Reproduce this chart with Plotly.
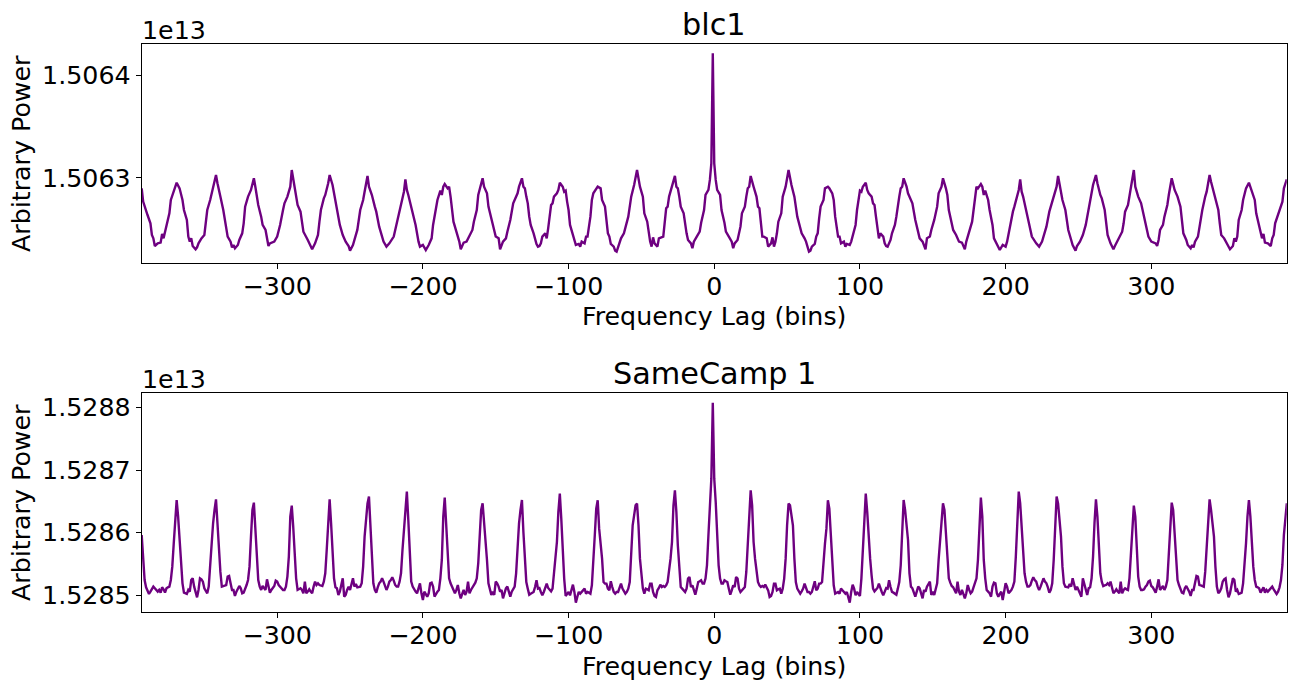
import plotly.graph_objects as go

# ---------------- data (values in units of 1e13, as on the axes) ----------------
blc1_lag = [
    -393, -392, -389, -387, -386, -385, -384, -382, -380, -379,
    -378, -376, -374, -373, -371, -370, -369, -367, -366, -365,
    -364, -362, -361, -360, -359, -358, -356, -355, -354, -352,
    -350, -349, -348, -346, -345, -343, -342, -341, -340, -339,
    -337, -335, -334, -332, -331, -330, -329, -327, -326, -324,
    -323, -322, -320, -318, -316, -315, -314, -313, -311, -310,
    -308, -307, -306, -305, -302, -300, -298, -296, -295, -293,
    -291, -290, -289, -287, -286, -284, -283, -282, -279, -277,
    -276, -274, -272, -271, -270, -268, -267, -265, -264, -262,
    -261, -260, -259, -257, -255, -253, -251, -250, -248, -247,
    -245, -243, -241, -240, -238, -237, -235, -233, -232, -230,
    -228, -227, -225, -223, -220, -219, -217, -215, -214, -213,
    -212, -211, -210, -208, -207, -205, -203, -202, -200, -198,
    -196, -194, -193, -191, -190, -188, -187, -186, -185, -183,
    -182, -181, -180, -179, -177, -175, -174, -172, -170, -168,
    -166, -165, -163, -162, -161, -159, -158, -156, -155, -153,
    -151, -150, -148, -147, -145, -143, -142, -140, -138, -136,
    -135, -134, -132, -131, -130, -129, -128, -127, -126, -124,
    -123, -122, -121, -120, -119, -118, -116, -115, -114, -113,
    -112, -111, -110, -108, -107, -106, -104, -103, -102, -101,
    -100, -99, -98, -97, -96, -95, -93, -92, -91, -89,
    -88, -87, -85, -84, -83, -81, -80, -78, -77, -75,
    -74, -73, -72, -71, -69, -68, -67, -65, -64, -62,
    -61, -59, -57, -56, -55, -53, -52, -51, -49, -48,
    -46, -45, -44, -43, -42, -41, -39, -38, -36, -35,
    -33, -32, -31, -29, -27, -26, -25, -24, -23, -21,
    -20, -19, -18, -16, -15, -14, -12, -10, -9, -7,
    -6, -4, -3, -2, -1,
    0, 1, 2, 4, 5, 7, 8, 10, 12, 13,
    14, 16, 17, 18, 19, 21, 22, 23, 24, 25,
    27, 29, 30, 31, 33, 34, 36, 37, 39, 40,
    41, 42, 43, 44, 46, 47, 49, 50, 51, 53,
    54, 55, 57, 59, 60, 62, 63, 65, 66, 67,
    69, 70, 71, 72, 73, 75, 76, 78, 79, 81,
    82, 83, 85, 86, 87, 89, 90, 91, 93, 94,
    95, 96, 97, 98, 99, 100, 101, 102, 104, 105,
    106, 108, 109, 110, 111, 112, 113, 114, 116, 117,
    118, 119, 120, 121, 122, 124, 125, 126, 127, 128,
    129, 130, 132, 133, 134, 136, 138, 140, 141, 143,
    145, 146, 148, 149, 151, 153, 154, 156, 157, 159,
    160, 161, 163, 164, 166, 168, 170, 172, 173, 175,
    177, 178, 179, 180, 181, 183, 184, 185, 186, 188,
    189, 191, 192, 194, 196, 198, 200, 201, 203, 205,
    206, 208, 209, 210, 211, 212, 213, 215, 217, 218,
    221, 223, 225, 226, 228, 230, 231, 233, 235, 236,
    238, 239, 241, 243, 245, 246, 248, 249, 251, 253,
    255, 257, 258, 259, 260, 262, 263, 265, 266, 268,
    269, 270, 272, 274, 275, 277, 280, 281, 282, 284,
    285, 287, 288, 289, 291, 293, 294, 296, 298, 300,
    303, 304, 305, 306, 308, 309, 311, 312, 313, 314,
    316, 318, 320, 321, 322, 324, 325, 327, 328, 329,
    330, 332, 333, 335, 337, 338, 339, 340, 341, 343,
    344, 346, 347, 348, 350, 352, 353, 354, 356, 357,
    358, 359, 360, 362, 363, 364, 365, 367, 368, 369,
    371, 372, 374, 376, 377, 378, 380, 382, 383, 384,
    385, 387, 390, 391, 392, 393,
]

blc1_power = [
    1.5062896, 1.5062766, 1.5062635, 1.5062554, 1.5062440, 1.5062407, 1.5062332, 1.5062358, 1.5062365, 1.5062450,
    1.5062407, 1.5062521, 1.5062652, 1.5062782, 1.5062863, 1.5062912, 1.5062951, 1.5062896, 1.5062847, 1.5062782,
    1.5062684, 1.5062587, 1.5062424, 1.5062375, 1.5062407, 1.5062332, 1.5062300, 1.5062319, 1.5062358, 1.5062407,
    1.5062440, 1.5062554, 1.5062684, 1.5062782, 1.5062847, 1.5062961, 1.5063026, 1.5062945, 1.5062863, 1.5062815,
    1.5062684, 1.5062521, 1.5062424, 1.5062375, 1.5062319, 1.5062342, 1.5062310, 1.5062342, 1.5062391, 1.5062456,
    1.5062554, 1.5062717, 1.5062815, 1.5062880, 1.5062994, 1.5062912, 1.5062831, 1.5062733, 1.5062619, 1.5062538,
    1.5062489, 1.5062391, 1.5062332, 1.5062358, 1.5062375, 1.5062424, 1.5062538, 1.5062684, 1.5062749, 1.5062815,
    1.5062912, 1.5063075, 1.5062978, 1.5062815, 1.5062733, 1.5062668, 1.5062554, 1.5062472, 1.5062391, 1.5062332,
    1.5062300, 1.5062358, 1.5062440, 1.5062570, 1.5062684, 1.5062798, 1.5062831, 1.5062945, 1.5063026, 1.5062929,
    1.5062847, 1.5062782, 1.5062684, 1.5062538, 1.5062440, 1.5062375, 1.5062332, 1.5062287, 1.5062342, 1.5062391,
    1.5062489, 1.5062684, 1.5062782, 1.5062863, 1.5063017, 1.5062912, 1.5062831, 1.5062717, 1.5062668, 1.5062521,
    1.5062424, 1.5062375, 1.5062326, 1.5062358, 1.5062424, 1.5062489, 1.5062619, 1.5062749, 1.5062815, 1.5062863,
    1.5062984, 1.5062880, 1.5062831, 1.5062717, 1.5062668, 1.5062538, 1.5062375, 1.5062326, 1.5062342, 1.5062293,
    1.5062342, 1.5062407, 1.5062538, 1.5062684, 1.5062782, 1.5062873, 1.5062831, 1.5062912, 1.5062938, 1.5062896,
    1.5062912, 1.5062815, 1.5062684, 1.5062570, 1.5062472, 1.5062375, 1.5062300, 1.5062365, 1.5062375, 1.5062440,
    1.5062489, 1.5062570, 1.5062684, 1.5062831, 1.5062896, 1.5062994, 1.5062912, 1.5062847, 1.5062717, 1.5062587,
    1.5062489, 1.5062424, 1.5062407, 1.5062300, 1.5062375, 1.5062407, 1.5062472, 1.5062587, 1.5062749, 1.5062815,
    1.5062847, 1.5062912, 1.5062994, 1.5062912, 1.5062896, 1.5062815, 1.5062749, 1.5062619, 1.5062538, 1.5062456,
    1.5062391, 1.5062352, 1.5062326, 1.5062332, 1.5062358, 1.5062424, 1.5062456, 1.5062407, 1.5062505, 1.5062619,
    1.5062733, 1.5062749, 1.5062815, 1.5062847, 1.5062880, 1.5062951, 1.5062912, 1.5062863, 1.5062873, 1.5062766,
    1.5062684, 1.5062538, 1.5062489, 1.5062424, 1.5062375, 1.5062342, 1.5062352, 1.5062326, 1.5062375, 1.5062358,
    1.5062424, 1.5062424, 1.5062619, 1.5062782, 1.5062847, 1.5062896, 1.5062912, 1.5062896, 1.5062782, 1.5062717,
    1.5062603, 1.5062456, 1.5062424, 1.5062352, 1.5062326, 1.5062287, 1.5062277, 1.5062375, 1.5062407, 1.5062456,
    1.5062521, 1.5062619, 1.5062815, 1.5062863, 1.5062929, 1.5063075, 1.5062978, 1.5062912, 1.5062815, 1.5062652,
    1.5062570, 1.5062456, 1.5062375, 1.5062326, 1.5062417, 1.5062358, 1.5062326, 1.5062407, 1.5062424, 1.5062424,
    1.5062701, 1.5062717, 1.5062815, 1.5062912, 1.5063017, 1.5062912, 1.5062896, 1.5062815, 1.5062717, 1.5062652,
    1.5062521, 1.5062456, 1.5062391, 1.5062358, 1.5062310, 1.5062375, 1.5062424, 1.5062472, 1.5062560, 1.5062684,
    1.5062831, 1.5062880, 1.5062978, 1.5063140, 1.5064216,
    1.5063140, 1.5062978, 1.5062880, 1.5062831, 1.5062684, 1.5062560, 1.5062472, 1.5062424, 1.5062375, 1.5062310,
    1.5062358, 1.5062391, 1.5062456, 1.5062521, 1.5062652, 1.5062717, 1.5062815, 1.5062896, 1.5062912, 1.5063017,
    1.5062912, 1.5062815, 1.5062717, 1.5062701, 1.5062424, 1.5062424, 1.5062407, 1.5062326, 1.5062358, 1.5062417,
    1.5062326, 1.5062375, 1.5062456, 1.5062570, 1.5062652, 1.5062815, 1.5062912, 1.5062978, 1.5063075, 1.5062929,
    1.5062863, 1.5062815, 1.5062619, 1.5062521, 1.5062456, 1.5062407, 1.5062375, 1.5062277, 1.5062287, 1.5062326,
    1.5062352, 1.5062424, 1.5062456, 1.5062603, 1.5062717, 1.5062782, 1.5062896, 1.5062912, 1.5062896, 1.5062847,
    1.5062782, 1.5062619, 1.5062424, 1.5062424, 1.5062358, 1.5062375, 1.5062326, 1.5062352, 1.5062342, 1.5062375,
    1.5062424, 1.5062489, 1.5062538, 1.5062684, 1.5062766, 1.5062873, 1.5062863, 1.5062912, 1.5062951, 1.5062880,
    1.5062847, 1.5062815, 1.5062749, 1.5062733, 1.5062619, 1.5062505, 1.5062407, 1.5062456, 1.5062424, 1.5062358,
    1.5062332, 1.5062326, 1.5062352, 1.5062391, 1.5062456, 1.5062538, 1.5062619, 1.5062749, 1.5062815, 1.5062896,
    1.5062912, 1.5062994, 1.5062912, 1.5062847, 1.5062815, 1.5062749, 1.5062587, 1.5062472, 1.5062407, 1.5062375,
    1.5062300, 1.5062407, 1.5062424, 1.5062489, 1.5062587, 1.5062717, 1.5062847, 1.5062912, 1.5062994, 1.5062896,
    1.5062831, 1.5062684, 1.5062570, 1.5062489, 1.5062440, 1.5062375, 1.5062365, 1.5062300, 1.5062375, 1.5062472,
    1.5062570, 1.5062684, 1.5062815, 1.5062912, 1.5062896, 1.5062938, 1.5062912, 1.5062831, 1.5062873, 1.5062782,
    1.5062684, 1.5062538, 1.5062407, 1.5062342, 1.5062293, 1.5062342, 1.5062326, 1.5062375, 1.5062538, 1.5062668,
    1.5062717, 1.5062831, 1.5062880, 1.5062984, 1.5062863, 1.5062815, 1.5062749, 1.5062619, 1.5062489, 1.5062424,
    1.5062358, 1.5062326, 1.5062375, 1.5062424, 1.5062521, 1.5062668, 1.5062717, 1.5062831, 1.5062912, 1.5063017,
    1.5062863, 1.5062782, 1.5062684, 1.5062489, 1.5062391, 1.5062342, 1.5062287, 1.5062332, 1.5062375, 1.5062440,
    1.5062538, 1.5062684, 1.5062782, 1.5062847, 1.5062929, 1.5063026, 1.5062945, 1.5062831, 1.5062798, 1.5062684,
    1.5062570, 1.5062440, 1.5062358, 1.5062300, 1.5062332, 1.5062391, 1.5062472, 1.5062554, 1.5062668, 1.5062733,
    1.5062815, 1.5062978, 1.5063075, 1.5062912, 1.5062815, 1.5062749, 1.5062684, 1.5062538, 1.5062424, 1.5062375,
    1.5062358, 1.5062332, 1.5062391, 1.5062489, 1.5062538, 1.5062619, 1.5062733, 1.5062831, 1.5062912, 1.5062994,
    1.5062880, 1.5062815, 1.5062717, 1.5062554, 1.5062456, 1.5062391, 1.5062342, 1.5062310, 1.5062342, 1.5062319,
    1.5062375, 1.5062424, 1.5062521, 1.5062684, 1.5062815, 1.5062863, 1.5062945, 1.5063026, 1.5062961, 1.5062847,
    1.5062782, 1.5062684, 1.5062554, 1.5062440, 1.5062407, 1.5062358, 1.5062319, 1.5062300, 1.5062332, 1.5062407,
    1.5062375, 1.5062424, 1.5062587, 1.5062684, 1.5062782, 1.5062847, 1.5062896, 1.5062951, 1.5062912, 1.5062863,
    1.5062782, 1.5062652, 1.5062521, 1.5062407, 1.5062450, 1.5062365, 1.5062358, 1.5062332, 1.5062407, 1.5062440,
    1.5062554, 1.5062635, 1.5062766, 1.5062896, 1.5062945, 1.5062984,
]

samecamp_lag = list(range(-393, 394))

samecamp_power = [
    1.5285962, 1.5285483, 1.5285243, 1.5285126, 1.5285057, 1.5285020, 1.5285057, 1.5285094, 1.5285137, 1.5285110,
    1.5285084, 1.5285057, 1.5285084, 1.5285041, 1.5285126, 1.5285094, 1.5285041, 1.5285110, 1.5285126, 1.5285137,
    1.5285243, 1.5285456, 1.5285829, 1.5286255, 1.5286521, 1.5286255, 1.5285829, 1.5285456, 1.5285190, 1.5285041,
    1.5285030, 1.5285020, 1.5285084, 1.5285057, 1.5285243, 1.5285270, 1.5285137, 1.5285030, 1.5284966, 1.5285084,
    1.5285270, 1.5285254, 1.5285217, 1.5285110, 1.5285057, 1.5285030, 1.5285137, 1.5285456, 1.5285936, 1.5286149,
    1.5286362, 1.5286532, 1.5286149, 1.5285723, 1.5285376, 1.5285137, 1.5285147, 1.5285158, 1.5285163, 1.5285297,
    1.5285307, 1.5285190, 1.5285084, 1.5285084, 1.5284988, 1.5285057, 1.5285110, 1.5285147, 1.5285110, 1.5285030,
    1.5285041, 1.5285094, 1.5285163, 1.5285243, 1.5285456, 1.5285936, 1.5286362, 1.5286479, 1.5286095, 1.5285616,
    1.5285243, 1.5285137, 1.5285084, 1.5285147, 1.5285110, 1.5285084, 1.5285254, 1.5285137, 1.5285041, 1.5285084,
    1.5285126, 1.5285147, 1.5285233, 1.5285217, 1.5285163, 1.5285137, 1.5285094, 1.5285084, 1.5285084, 1.5285137,
    1.5285297, 1.5285616, 1.5286255, 1.5286431, 1.5286095, 1.5285616, 1.5285270, 1.5285084, 1.5285094, 1.5285110,
    1.5285084, 1.5285030, 1.5285217, 1.5285030, 1.5285057, 1.5285094, 1.5285057, 1.5285030, 1.5285137, 1.5285217,
    1.5285163, 1.5285190, 1.5285163, 1.5285158, 1.5285147, 1.5285217, 1.5285350, 1.5285723, 1.5286255, 1.5286532,
    1.5286149, 1.5285616, 1.5285270, 1.5285126, 1.5285110, 1.5285004, 1.5285057, 1.5285163, 1.5285270, 1.5284977,
    1.5285004, 1.5285084, 1.5285137, 1.5285084, 1.5285190, 1.5285270, 1.5285137, 1.5285179, 1.5285126, 1.5285131,
    1.5285137, 1.5285190, 1.5285456, 1.5285936, 1.5286255, 1.5286468, 1.5286575, 1.5286149, 1.5285563, 1.5285190,
    1.5285084, 1.5285041, 1.5285126, 1.5285190, 1.5285217, 1.5285270, 1.5285217, 1.5285137, 1.5285084, 1.5285137,
    1.5285217, 1.5285243, 1.5285286, 1.5285233, 1.5285163, 1.5285137, 1.5285137, 1.5285217, 1.5285350, 1.5285723,
    1.5286095, 1.5286468, 1.5286654, 1.5286202, 1.5285616, 1.5285217, 1.5285137, 1.5285084, 1.5285057, 1.5285030,
    1.5285137, 1.5285190, 1.5285030, 1.5284924, 1.5285057, 1.5285020, 1.5284977, 1.5285030, 1.5285190, 1.5285201,
    1.5285137, 1.5284977, 1.5285030, 1.5285057, 1.5285084, 1.5285270, 1.5285563, 1.5286255, 1.5286559, 1.5286095,
    1.5285563, 1.5285270, 1.5285190, 1.5285137, 1.5285057, 1.5285030, 1.5285084, 1.5285163, 1.5285030, 1.5284950,
    1.5285020, 1.5285084, 1.5285004, 1.5285057, 1.5285217, 1.5285030, 1.5285084, 1.5285126, 1.5285147, 1.5285201,
    1.5285270, 1.5285510, 1.5285936, 1.5286362, 1.5286468, 1.5286202, 1.5285882, 1.5285563, 1.5285190, 1.5285084,
    1.5285004, 1.5285057, 1.5285004, 1.5285217, 1.5285190, 1.5285137, 1.5285057, 1.5285084, 1.5284950, 1.5285030,
    1.5285110, 1.5285137, 1.5285057, 1.5284977, 1.5285057, 1.5285110, 1.5285137, 1.5285350, 1.5285882, 1.5286149,
    1.5286362, 1.5286521, 1.5286010, 1.5285478, 1.5285211, 1.5285105, 1.5285009, 1.5285025, 1.5285041, 1.5285052,
    1.5285131, 1.5285238, 1.5285105, 1.5285115, 1.5285052, 1.5284998, 1.5285052, 1.5285105, 1.5285185, 1.5285115,
    1.5285094, 1.5285062, 1.5285105, 1.5285318, 1.5285584, 1.5285850, 1.5286330, 1.5286622, 1.5286223, 1.5285691,
    1.5285265, 1.5284988, 1.5285020, 1.5285052, 1.5284998, 1.5285105, 1.5285169, 1.5285052, 1.5284881, 1.5284972,
    1.5285052, 1.5285025, 1.5285052, 1.5285078, 1.5285105, 1.5285025, 1.5285052, 1.5285041, 1.5285025, 1.5285158,
    1.5285478, 1.5285957, 1.5286383, 1.5286516, 1.5286063, 1.5285824, 1.5285584, 1.5285211, 1.5285185, 1.5285185,
    1.5285105, 1.5285078, 1.5285222, 1.5285131, 1.5285052, 1.5285025, 1.5285052, 1.5285052, 1.5285105, 1.5285185,
    1.5285105, 1.5285062, 1.5285025, 1.5285052, 1.5285105, 1.5285211, 1.5285584, 1.5286117, 1.5286276, 1.5286436,
    1.5286463, 1.5286117, 1.5285584, 1.5285265, 1.5285105, 1.5285025, 1.5285105, 1.5285094, 1.5285078, 1.5285185,
    1.5285185, 1.5285052, 1.5284988, 1.5284972, 1.5285078, 1.5285115, 1.5285169, 1.5285131, 1.5285147, 1.5285131,
    1.5285158, 1.5285211, 1.5285371, 1.5285584, 1.5285850, 1.5286436, 1.5286676, 1.5286330, 1.5285797, 1.5285371,
    1.5285131, 1.5285105, 1.5285078, 1.5285052, 1.5285105, 1.5285265, 1.5285291, 1.5285131, 1.5285158, 1.5285078,
    1.5285009, 1.5285105, 1.5285211, 1.5285222, 1.5285238, 1.5285185, 1.5285185, 1.5285265, 1.5285478, 1.5285957,
    1.5286489, 1.5286862, 1.5288076,
    1.5286862, 1.5286489, 1.5285957, 1.5285478, 1.5285265, 1.5285185, 1.5285185, 1.5285238, 1.5285222, 1.5285211,
    1.5285105, 1.5285009,
    1.5285078, 1.5285158, 1.5285131, 1.5285291, 1.5285265, 1.5285105, 1.5285052, 1.5285078, 1.5285105, 1.5285131,
    1.5285371, 1.5285797, 1.5286330, 1.5286676, 1.5286436, 1.5285850, 1.5285584, 1.5285371, 1.5285211, 1.5285158,
    1.5285131, 1.5285147, 1.5285131, 1.5285169, 1.5285115, 1.5285078, 1.5284972, 1.5284988, 1.5285052, 1.5285185,
    1.5285185, 1.5285078, 1.5285094, 1.5285105, 1.5285025, 1.5285105, 1.5285265, 1.5285584, 1.5286117, 1.5286463,
    1.5286436, 1.5286276, 1.5286117, 1.5285584, 1.5285211, 1.5285105, 1.5285052, 1.5285025, 1.5285062, 1.5285105,
    1.5285185, 1.5285105, 1.5285052, 1.5285052, 1.5285025, 1.5285052, 1.5285131, 1.5285222, 1.5285078, 1.5285105,
    1.5285185, 1.5285185, 1.5285211, 1.5285584, 1.5285824, 1.5286063, 1.5286516, 1.5286383, 1.5285957, 1.5285478,
    1.5285158, 1.5285025, 1.5285041, 1.5285052, 1.5285025, 1.5285105, 1.5285078, 1.5285052, 1.5285025, 1.5285052,
    1.5284972, 1.5284881, 1.5285052, 1.5285169, 1.5285105, 1.5284998, 1.5285052, 1.5285020, 1.5284988, 1.5285265,
    1.5285691, 1.5286223, 1.5286622, 1.5286330, 1.5285850, 1.5285584, 1.5285318, 1.5285105, 1.5285062, 1.5285094,
    1.5285115, 1.5285185, 1.5285105, 1.5285052, 1.5284998, 1.5285052, 1.5285115, 1.5285105, 1.5285238, 1.5285131,
    1.5285052, 1.5285041, 1.5285025, 1.5285009, 1.5285105, 1.5285211, 1.5285478, 1.5286010, 1.5286521, 1.5286362,
    1.5286149, 1.5285882, 1.5285350, 1.5285137, 1.5285110, 1.5285057, 1.5284977, 1.5285057, 1.5285137, 1.5285110,
    1.5285030, 1.5284950, 1.5285084, 1.5285057, 1.5285137, 1.5285190, 1.5285217, 1.5285004, 1.5285057, 1.5285004,
    1.5285084, 1.5285190, 1.5285563, 1.5285882, 1.5286202, 1.5286468, 1.5286362, 1.5285936, 1.5285510, 1.5285270,
    1.5285201, 1.5285147, 1.5285126, 1.5285084, 1.5285030, 1.5285217, 1.5285057, 1.5285004, 1.5285084, 1.5285020,
    1.5284950, 1.5285030, 1.5285163, 1.5285084, 1.5285030, 1.5285057, 1.5285137, 1.5285190, 1.5285270, 1.5285563,
    1.5286095, 1.5286559, 1.5286255, 1.5285563, 1.5285270, 1.5285084, 1.5285057, 1.5285030, 1.5284977, 1.5285137,
    1.5285201, 1.5285190, 1.5285030, 1.5284977, 1.5285020, 1.5285057, 1.5284924, 1.5285030, 1.5285190, 1.5285137,
    1.5285030, 1.5285057, 1.5285084, 1.5285137, 1.5285217, 1.5285616, 1.5286202, 1.5286654, 1.5286468, 1.5286095,
    1.5285723, 1.5285350, 1.5285217, 1.5285137, 1.5285137, 1.5285163, 1.5285233, 1.5285286, 1.5285243, 1.5285217,
    1.5285137, 1.5285084, 1.5285137, 1.5285217, 1.5285270, 1.5285217, 1.5285190, 1.5285126, 1.5285041, 1.5285084,
    1.5285190, 1.5285563, 1.5286149, 1.5286575, 1.5286468, 1.5286255, 1.5285936, 1.5285456, 1.5285190, 1.5285137,
    1.5285131, 1.5285126, 1.5285179, 1.5285137, 1.5285270, 1.5285190, 1.5285084, 1.5285137, 1.5285084, 1.5285004,
    1.5284977, 1.5285270, 1.5285163, 1.5285057, 1.5285004, 1.5285110, 1.5285126, 1.5285270, 1.5285616, 1.5286149,
    1.5286532, 1.5286255, 1.5285723, 1.5285350, 1.5285217, 1.5285147, 1.5285158, 1.5285163, 1.5285190, 1.5285163,
    1.5285217, 1.5285137, 1.5285030, 1.5285057, 1.5285094, 1.5285057, 1.5285030, 1.5285217, 1.5285030, 1.5285084,
    1.5285110, 1.5285094, 1.5285084, 1.5285270, 1.5285616, 1.5286095, 1.5286431, 1.5286255, 1.5285616, 1.5285297,
    1.5285137, 1.5285084, 1.5285084, 1.5285094, 1.5285137, 1.5285163, 1.5285217, 1.5285233, 1.5285147, 1.5285126,
    1.5285084, 1.5285041, 1.5285137, 1.5285254, 1.5285084, 1.5285110, 1.5285147, 1.5285084, 1.5285137, 1.5285243,
    1.5285616, 1.5286095, 1.5286479, 1.5286362, 1.5285936, 1.5285456, 1.5285243, 1.5285163, 1.5285094, 1.5285041,
    1.5285030, 1.5285110, 1.5285147, 1.5285110, 1.5285057, 1.5284988, 1.5285084, 1.5285084, 1.5285190, 1.5285307,
    1.5285297, 1.5285163, 1.5285158, 1.5285147, 1.5285137, 1.5285376, 1.5285723, 1.5286149, 1.5286532, 1.5286362,
    1.5286149, 1.5285936, 1.5285456, 1.5285137, 1.5285030, 1.5285057, 1.5285110, 1.5285217, 1.5285254, 1.5285270,
    1.5285084, 1.5284966, 1.5285030, 1.5285137, 1.5285270, 1.5285243, 1.5285057, 1.5285084, 1.5285020, 1.5285030,
    1.5285041, 1.5285190, 1.5285456, 1.5285829, 1.5286255, 1.5286521, 1.5286255, 1.5285829, 1.5285456, 1.5285243,
    1.5285137, 1.5285126, 1.5285110, 1.5285041, 1.5285094, 1.5285126, 1.5285041, 1.5285084, 1.5285057, 1.5285084,
    1.5285110, 1.5285137, 1.5285094, 1.5285057, 1.5285020, 1.5285057, 1.5285126, 1.5285243, 1.5285483, 1.5285962,
    1.5286255, 1.5286468,
]

x_tick_values = [-300, -200, -100, 0, 100, 200, 300]
x_tick_labels = ["\u2212300", "\u2212200", "\u2212100", "0", "100", "200", "300"]
blc1_tick_values = [1.5063, 1.5064]
blc1_tick_labels = ["1.5063", "1.5064"]
samecamp_tick_values = [1.5285, 1.5286, 1.5287, 1.5288]
samecamp_tick_labels = ["1.5285", "1.5286", "1.5287", "1.5288"]
panel_titles = ["blc1", "SameCamp 1"]
x_label = "Frequency Lag (bins)"
y_label = "Arbitrary Power"
offset_label = "1e13"

# ---------------- layout ----------------
W, H = 1289, 686
FONT = "DejaVu Sans"
TICK_SIZE = 25.3
TITLE_SIZE = 30.3
LINE_COLOR = "#6e0080"


def fx(px):
    return px / W


def fy(py):
    return 1 - py / H


fig = go.Figure()
fig.add_trace(go.Scatter(x=blc1_lag, y=blc1_power, mode="lines",
                         line=dict(color=LINE_COLOR, width=2.4),
                         xaxis="x", yaxis="y", showlegend=False, hoverinfo="skip"))
fig.add_trace(go.Scatter(x=samecamp_lag, y=samecamp_power, mode="lines",
                         line=dict(color=LINE_COLOR, width=2.4),
                         xaxis="x2", yaxis="y2", showlegend=False, hoverinfo="skip"))

axis_style = dict(showline=True, linecolor="black", linewidth=1.1, mirror=True,
                  ticks="outside", ticklen=5, tickwidth=1.1, tickcolor="black",
                  showgrid=False, zeroline=False, automargin=False,
                  tickfont=dict(family=FONT, size=TICK_SIZE, color="black"))

x_dom = [fx(141.7), fx(1286.8)]
top_dom = [fy(263.3), fy(43.7)]
bot_dom = [fy(612.3), fy(392.7)]

fig.update_layout(
    width=W, height=H, autosize=False,
    margin=dict(l=0, r=0, t=0, b=0, pad=0),
    paper_bgcolor="white", plot_bgcolor="white",
    xaxis=dict(domain=x_dom, anchor="y", range=[-393, 393], ticklabelstandoff=-5,
               tickmode="array", tickvals=x_tick_values, ticktext=x_tick_labels, **axis_style),
    yaxis=dict(domain=top_dom, anchor="x", range=[1.5062163, 1.5064310],
               tickmode="array", tickvals=blc1_tick_values, ticktext=blc1_tick_labels, **axis_style),
    xaxis2=dict(domain=x_dom, anchor="y2", range=[-393, 393], ticklabelstandoff=-5,
                tickmode="array", tickvals=x_tick_values, ticktext=x_tick_labels, **axis_style),
    yaxis2=dict(domain=bot_dom, anchor="x2", range=[1.5284727, 1.5288235],
                tickmode="array", tickvals=samecamp_tick_values, ticktext=samecamp_tick_labels, **axis_style),
)

cx = fx(714.3)
ann = []
# panel titles
ann.append(dict(text=panel_titles[0], x=cx, y=fy(24.3), xanchor="center", yanchor="middle",
                font=dict(family=FONT, size=TITLE_SIZE, color="black")))
ann.append(dict(text=panel_titles[1], x=cx, y=fy(373.5), xanchor="center", yanchor="middle",
                font=dict(family=FONT, size=TITLE_SIZE, color="black")))
# offset text
for ymid in (30.4, 379.5):
    ann.append(dict(text=offset_label, x=fx(140.0), y=fy(ymid), xanchor="left", yanchor="middle",
                    font=dict(family=FONT, size=TICK_SIZE, color="black")))
# x axis titles
for ymid in (316.4, 666.4):
    ann.append(dict(text=x_label, x=cx, y=fy(ymid), xanchor="center", yanchor="middle",
                    font=dict(family=FONT, size=TICK_SIZE, color="black")))
# y axis titles
for ymid in (153.5, 502.5):
    ann.append(dict(text=y_label, x=fx(21.5), y=fy(ymid), xanchor="center", yanchor="middle",
                    textangle=-90, font=dict(family=FONT, size=TICK_SIZE, color="black")))

for a in ann:
    a.update(xref="paper", yref="paper", showarrow=False)
fig.update_layout(annotations=ann)

fig.write_html("out.html")
